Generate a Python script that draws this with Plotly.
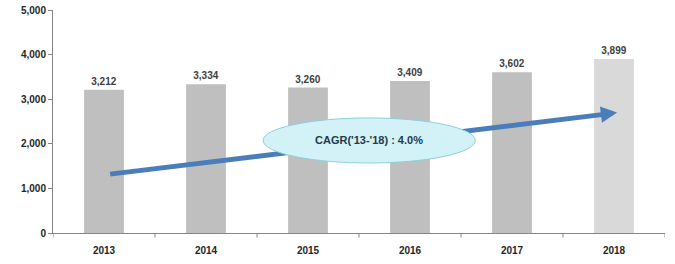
import plotly.graph_objects as go

years = ["2013", "2014", "2015", "2016", "2017", "2018"]
values = [3212, 3334, 3260, 3409, 3602, 3899]
bar_colors = ["#bfbfbf", "#bfbfbf", "#bfbfbf", "#bfbfbf", "#bfbfbf", "#d9d9d9"]
y_ticks = [0, 1000, 2000, 3000, 4000, 5000]
cagr_text = "CAGR('13-'18) : 4.0%"

font_fam = "Liberation Sans, Arial, sans-serif"

fig = go.Figure()
fig.add_trace(go.Bar(
    x=list(range(len(years))), y=values,
    marker=dict(color=bar_colors, line=dict(width=0)),
    width=0.39,
    text=[f"{v:,}" for v in values],
    textposition="outside",
    textfont=dict(family=font_fam, size=10, color="#404040", weight="bold"),
    cliponaxis=False,
))

# arrow body
fig.add_shape(type="line", xref="x", yref="y",
              x0=0.06, y0=1320, x1=4.92, y1=2665,
              line=dict(color="#4a7ebb", width=5), layer="above")
# ellipse
fig.add_shape(type="circle", xref="x", yref="y",
              x0=1.56, y0=1570, x1=3.64, y1=2580,
              fillcolor="#d3f2f7", line=dict(color="#8ccfdc", width=1), layer="above")
# arrow head
fig.add_annotation(x=5.03, y=2700, xref="x", yref="y",
                   ax=-14, ay=1.8, axref="pixel", ayref="pixel",
                   showarrow=True, arrowhead=2, arrowsize=0.65, arrowwidth=5,
                   arrowcolor="#4a7ebb", standoff=0, text="")
fig.add_annotation(x=2.6, y=2075, xref="x", yref="y", text=cagr_text,
                   showarrow=False,
                   font=dict(family=font_fam, size=11, color="#1f3a4a", weight="bold"))

fig.update_layout(
    width=675, height=264,
    margin=dict(l=53, r=10, t=10, b=31),
    paper_bgcolor="white", plot_bgcolor="white",
    showlegend=False,
    xaxis=dict(
        range=[-0.5, 5.5], tickmode="array",
        tickvals=list(range(len(years))), ticktext=years,
        showline=True, linecolor="#868686", linewidth=1,
        ticks="", showgrid=False, zeroline=False,
        ticklabelstandoff=8, automargin=False,
        tickfont=dict(family=font_fam, size=10, color="#262626", weight="bold"),
    ),
    yaxis=dict(
        range=[0, 5000], tickvals=y_ticks,
        tickformat=",", showline=True, linecolor="#868686", linewidth=1,
        ticks="outside", ticklen=4, tickcolor="#868686",
        showgrid=False, zeroline=False, automargin=False,
        tickfont=dict(family=font_fam, size=10, color="#262626", weight="bold"),
    ),
)

# category boundary ticks on x axis
for i in range(len(years) + 1):
    fig.add_shape(type="line", xref="x", yref="paper",
                  x0=i - 0.5, x1=i - 0.5, y0=0, y1=-0.02,
                  line=dict(color="#868686", width=1))

fig.write_html("out.html")
